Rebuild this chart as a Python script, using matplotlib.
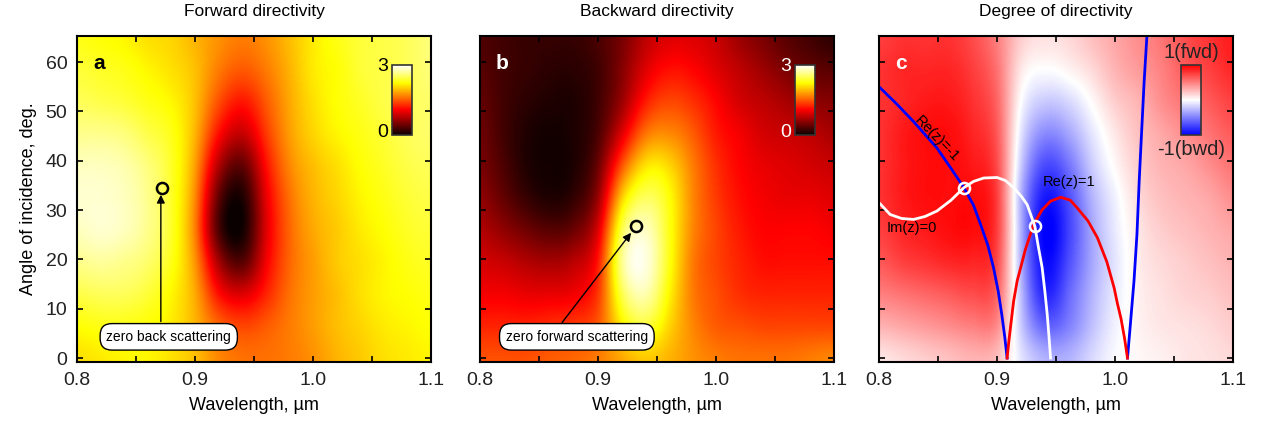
import numpy as np
import matplotlib
matplotlib.use("Agg")
import matplotlib.pyplot as plt

plt.rcParams['font.family'] = ['Liberation Sans', 'DejaVu Sans']

# ==================================================
# DATA
# ==================================================

# grid nodes of the maps: wavelength 0.80..1.10 step 0.02, angle 0..65 step 6.5
wl_nodes = [0.80, 0.82, 0.84, 0.86, 0.88, 0.90, 0.92, 0.94,
            0.96, 0.98, 1.00, 1.02, 1.04, 1.06, 1.08, 1.10]
ang_nodes = [0, 6.5, 13, 19.5, 26, 32.5, 39, 45.5, 52, 58.5, 65]

# forward directivity (rows = angle from bottom to top)
fwd = [
    [2.10, 2.15, 2.20, 2.20, 2.10, 1.95, 1.70, 1.60, 1.60, 1.65, 1.75, 1.90, 2.00, 2.10, 2.15, 2.20],
    [2.25, 2.30, 2.30, 2.25, 2.15, 1.90, 1.55, 1.40, 1.50, 1.65, 1.80, 1.95, 2.05, 2.15, 2.20, 2.25],
    [2.45, 2.50, 2.50, 2.40, 2.20, 1.85, 1.15, 0.95, 1.25, 1.60, 1.80, 1.95, 2.10, 2.20, 2.25, 2.30],
    [2.65, 2.70, 2.65, 2.55, 2.30, 1.75, 0.70, 0.35, 1.05, 1.55, 1.80, 2.00, 2.10, 2.20, 2.30, 2.35],
    [2.80, 2.85, 2.80, 2.65, 2.35, 1.65, 0.30, 0.05, 0.95, 1.55, 1.85, 2.00, 2.15, 2.25, 2.35, 2.40],
    [2.85, 2.85, 2.80, 2.65, 2.35, 1.70, 0.40, 0.10, 1.00, 1.60, 1.90, 2.05, 2.20, 2.30, 2.40, 2.45],
    [2.80, 2.80, 2.75, 2.60, 2.35, 1.80, 0.75, 0.40, 1.15, 1.70, 1.95, 2.10, 2.25, 2.35, 2.45, 2.50],
    [2.65, 2.65, 2.60, 2.45, 2.30, 1.90, 1.15, 0.85, 1.35, 1.80, 2.05, 2.20, 2.30, 2.40, 2.50, 2.55],
    [2.50, 2.45, 2.40, 2.30, 2.20, 1.95, 1.45, 1.20, 1.50, 1.85, 2.10, 2.25, 2.35, 2.45, 2.50, 2.55],
    [2.40, 2.35, 2.30, 2.20, 2.10, 1.95, 1.65, 1.50, 1.65, 1.90, 2.15, 2.25, 2.40, 2.45, 2.50, 2.60],
    [2.30, 2.25, 2.20, 2.10, 2.05, 1.90, 1.75, 1.65, 1.75, 1.95, 2.15, 2.30, 2.40, 2.45, 2.50, 2.60],
]

# backward directivity
bwd = [
    [1.45, 1.45, 1.45, 1.50, 1.55, 1.65, 1.85, 2.00, 1.90, 1.75, 1.65, 1.60, 1.60, 1.60, 1.65, 1.70],
    [1.25, 1.25, 1.25, 1.30, 1.35, 1.50, 2.15, 2.40, 2.05, 1.70, 1.50, 1.45, 1.40, 1.40, 1.40, 1.40],
    [1.05, 1.05, 1.00, 1.00, 1.05, 1.35, 2.45, 2.75, 2.20, 1.65, 1.45, 1.30, 1.25, 1.25, 1.25, 1.25],
    [0.90, 0.85, 0.75, 0.70, 0.80, 1.20, 2.65, 2.90, 2.30, 1.65, 1.40, 1.25, 1.15, 1.15, 1.15, 1.15],
    [0.75, 0.60, 0.45, 0.35, 0.45, 0.95, 2.45, 2.80, 2.30, 1.70, 1.40, 1.20, 1.10, 1.10, 1.10, 1.05],
    [0.60, 0.40, 0.20, 0.10, 0.20, 0.65, 2.00, 2.50, 2.25, 1.70, 1.35, 1.15, 1.05, 1.00, 1.00, 0.95],
    [0.50, 0.30, 0.10, 0.05, 0.10, 0.45, 1.45, 2.10, 2.05, 1.65, 1.30, 1.10, 1.00, 0.95, 0.90, 0.85],
    [0.45, 0.25, 0.10, 0.05, 0.10, 0.30, 0.95, 1.60, 1.70, 1.50, 1.20, 1.05, 0.90, 0.85, 0.80, 0.70],
    [0.40, 0.25, 0.15, 0.10, 0.10, 0.25, 0.65, 1.20, 1.40, 1.30, 1.10, 0.90, 0.80, 0.70, 0.60, 0.55],
    [0.35, 0.25, 0.20, 0.15, 0.15, 0.25, 0.55, 0.95, 1.15, 1.10, 0.95, 0.80, 0.65, 0.50, 0.40, 0.35],
    [0.30, 0.25, 0.20, 0.20, 0.20, 0.30, 0.50, 0.80, 0.95, 0.95, 0.85, 0.65, 0.50, 0.35, 0.25, 0.15],
]

# degree of directivity (+1 forward, -1 backward)
degree = [
    [0.10, 0.15, 0.20, 0.25, 0.30, 0.25, -0.10, -0.30, -0.30, -0.15, -0.02, 0.03, 0.06, 0.10, 0.12, 0.15],
    [0.30, 0.35, 0.40, 0.45, 0.50, 0.45, -0.20, -0.60, -0.50, -0.25, -0.05, 0.05, 0.10, 0.12, 0.15, 0.20],
    [0.50, 0.55, 0.60, 0.65, 0.70, 0.60, -0.25, -0.85, -0.60, -0.30, -0.08, 0.06, 0.12, 0.17, 0.20, 0.25],
    [0.65, 0.75, 0.80, 0.85, 0.85, 0.70, -0.30, -0.95, -0.70, -0.35, -0.10, 0.08, 0.15, 0.20, 0.25, 0.30],
    [0.75, 0.85, 0.90, 0.95, 0.95, 0.75, -0.30, -1.00, -0.75, -0.35, -0.08, 0.10, 0.20, 0.25, 0.30, 0.35],
    [0.80, 0.90, 0.95, 0.95, 0.95, 0.75, -0.30, -0.90, -0.70, -0.30, -0.05, 0.15, 0.25, 0.30, 0.35, 0.45],
    [0.80, 0.90, 0.95, 0.95, 0.90, 0.70, -0.20, -0.70, -0.55, -0.20, 0.03, 0.20, 0.30, 0.35, 0.45, 0.55],
    [0.80, 0.90, 0.95, 0.95, 0.85, 0.65, -0.10, -0.45, -0.35, -0.10, 0.10, 0.25, 0.35, 0.45, 0.55, 0.65],
    [0.80, 0.85, 0.90, 0.90, 0.80, 0.60, 0.00, -0.20, -0.15, 0.02, 0.20, 0.30, 0.45, 0.55, 0.65, 0.75],
    [0.80, 0.85, 0.85, 0.85, 0.75, 0.55, 0.10, 0.00, 0.05, 0.15, 0.30, 0.40, 0.50, 0.65, 0.75, 0.85],
    [0.75, 0.80, 0.80, 0.80, 0.70, 0.50, 0.20, 0.12, 0.15, 0.25, 0.35, 0.45, 0.55, 0.70, 0.80, 0.90],
]

# curves in panel c
re_m1_left_x = [0.800, 0.815, 0.829, 0.849, 0.860, 0.872, 0.880, 0.886, 0.892,
                0.897, 0.901, 0.904, 0.9065, 0.9085]
re_m1_left_y = [55.0, 51.5, 48.0, 42.6, 38.8, 34.5, 31.0, 27.1, 23.0,
                18.3, 13.5, 8.8, 4.3, 0.0]
re_m1_right_x = [1.0105, 1.013, 1.016, 1.0185, 1.0204, 1.0225, 1.0246, 1.027]
re_m1_right_y = [0.0, 7.0, 15.6, 25.0, 35.8, 46.0, 56.0, 65.5]
re_p1_x = [0.9085, 0.910, 0.912, 0.914, 0.917, 0.924, 0.931, 0.938, 0.9453, 0.954,
           0.962, 0.968, 0.977, 0.985, 0.993, 0.9992, 1.002, 1.005, 1.008, 1.0105]
re_p1_y = [0.0, 3.5, 7.5, 11.5, 15.6, 22.0, 27.1, 30.0, 31.8, 32.6,
           32.0, 30.4, 27.8, 24.4, 19.5, 14.2, 11.0, 8.0, 4.0, 0.0]
im0_x = [0.800, 0.8094, 0.819, 0.8292, 0.839, 0.849, 0.861, 0.8717, 0.880, 0.8887,
         0.900, 0.907, 0.9142, 0.9205, 0.9255, 0.932, 0.935, 0.9382, 0.9405,
         0.9425, 0.944, 0.9453]
im0_y = [31.5, 29.1, 28.3, 28.1, 28.7, 29.8, 32.0, 34.5, 35.8, 36.5,
         36.6, 36.0, 34.5, 32.8, 31.1, 26.7, 22.5, 18.3, 13.5, 8.8, 4.3, 0.0]

# special points: zero back scattering / zero forward scattering
zbs = (0.8717, 34.5)
zfs = (0.932, 26.7)

titles = ["Forward directivity", "Backward directivity", "Degree of directivity"]
letters = ["a", "b", "c"]

# ==================================================
# FIGURE
# ==================================================

fig = plt.figure(figsize=(12.61, 4.33), dpi=100)
lefts = [0.0611, 0.3807, 0.6971]
width = 0.2808
bottom, height = 0.164, 0.753

dx = wl_nodes[1] - wl_nodes[0]
dy = ang_nodes[1] - ang_nodes[0]
extent = [wl_nodes[0] - dx / 2, wl_nodes[-1] + dx / 2,
          ang_nodes[0] - dy / 2, ang_nodes[-1] + dy / 2]

maps = [(fwd, 'hot', 0, 3), (bwd, 'hot', 0, 3), (degree, 'bwr', -1, 1)]
axes = []

for i in range(3):
    ax = fig.add_axes([lefts[i], bottom, width, height])
    axes.append(ax)
    data, cmap, vmin, vmax = maps[i]
    im = ax.imshow(np.array(data), origin='lower', extent=extent, aspect='auto',
                   cmap=cmap, vmin=vmin, vmax=vmax, interpolation='spline16')
    ax.set_xlim(0.8, 1.1)
    ax.set_ylim(-0.8, 65.3)
    ax.set_xticks([0.8, 0.9, 1.0, 1.1])
    ax.set_xticklabels(["0.8", "0.9", "1.0", "1.1"])
    ax.set_xticks([0.85, 0.95, 1.05], minor=True)
    ax.set_yticks([0, 10, 20, 30, 40, 50, 60])
    ax.tick_params(which='both', direction='in', top=True, right=True,
                   length=4, width=1.2, labelsize=14, colors='black',
                   labelcolor='#222222', pad=7)
    for s in ax.spines.values():
        s.set_linewidth(1.5)
    if i > 0:
        ax.set_yticklabels([])
    else:
        ax.set_ylabel("Angle of incidence, deg.", fontsize=13, labelpad=6)
    ax.set_xlabel("Wavelength, µm", fontsize=13, labelpad=6)
    ax.set_title(titles[i], fontsize=12.5, pad=14)
    ax.text(0.045, 0.915, letters[i], transform=ax.transAxes, fontsize=15,
            fontweight='bold', color='black' if i == 0 else 'white',
            va='center', ha='left')

    # inset colour bar
    cx = 0.89 if i < 2 else 0.853
    cax = ax.inset_axes([cx, 0.696, 0.056, 0.215])
    cb = fig.colorbar(im, cax=cax, ticks=[])
    cb.outline.set_edgecolor('#333333')
    cb.outline.set_linewidth(1.2)
    if i < 2:
        tc = 'black' if i == 0 else 'white'
        ax.text(cx - 0.012, 0.905, "3", transform=ax.transAxes, fontsize=14,
                color=tc, ha='right', va='center')
        ax.text(cx - 0.012, 0.705, "0", transform=ax.transAxes, fontsize=14,
                color=tc, ha='right', va='center')
    else:
        ax.text(cx + 0.028, 0.95, "1(fwd)", transform=ax.transAxes, fontsize=14.5,
                color='#222222', ha='center', va='center')
        ax.text(cx + 0.028, 0.652, "-1(bwd)", transform=ax.transAxes, fontsize=14.5,
                color='#222222', ha='center', va='center')

box = dict(boxstyle="round,pad=0.45,rounding_size=0.85", fc='white', ec='black', lw=1.0)

# panel a
ax = axes[0]
ax.annotate('', xy=(zbs[0] - 0.0007, zbs[1] - 1.4), xytext=(zbs[0] - 0.0007, 7.4),
            arrowprops=dict(arrowstyle='-|>', color='black', lw=1.0,
                            mutation_scale=12, shrinkA=0, shrinkB=0))
ax.plot(*zbs, 'o', ms=8, mfc='none', mec='black', mew=1.8)
ax.text(0.8777, 4.3, "zero back scattering", fontsize=10, ha='center', va='center', bbox=box)

# panel b
ax = axes[1]
ax.annotate('', xy=(zfs[0] - 0.004, zfs[1] - 1.3), xytext=(0.8695, 7.2),
            arrowprops=dict(arrowstyle='-|>', color='black', lw=1.0,
                            mutation_scale=12, shrinkA=0, shrinkB=0))
ax.plot(*zfs, 'o', ms=8, mfc='none', mec='black', mew=1.8)
ax.text(0.882, 4.3, "zero forward scattering", fontsize=10, ha='center', va='center', bbox=box)

# panel c
ax = axes[2]
ax.plot(re_m1_left_x, re_m1_left_y, color='#0000ff', lw=2)
ax.plot(re_m1_right_x, re_m1_right_y, color='#0000ff', lw=2)
ax.plot(re_p1_x, re_p1_y, color='#ff0000', lw=2)
ax.plot(im0_x, im0_y, color='white', lw=2)
ax.plot(*zbs, 'o', ms=8, mfc='none', mec='white', mew=1.8)
ax.plot(*zfs, 'o', ms=8, mfc='none', mec='white', mew=1.8)
ax.text(0.8485, 44.5, "Re(z)=-1", fontsize=10.5, rotation=-46, ha='center', va='center')
ax.text(0.961, 35.6, "Re(z)=1", fontsize=10.5, ha='center', va='center')
ax.text(0.8277, 26.3, "Im(z)=0", fontsize=10.5, ha='center', va='center')

plt.savefig("out.png", dpi=100, facecolor="white")
